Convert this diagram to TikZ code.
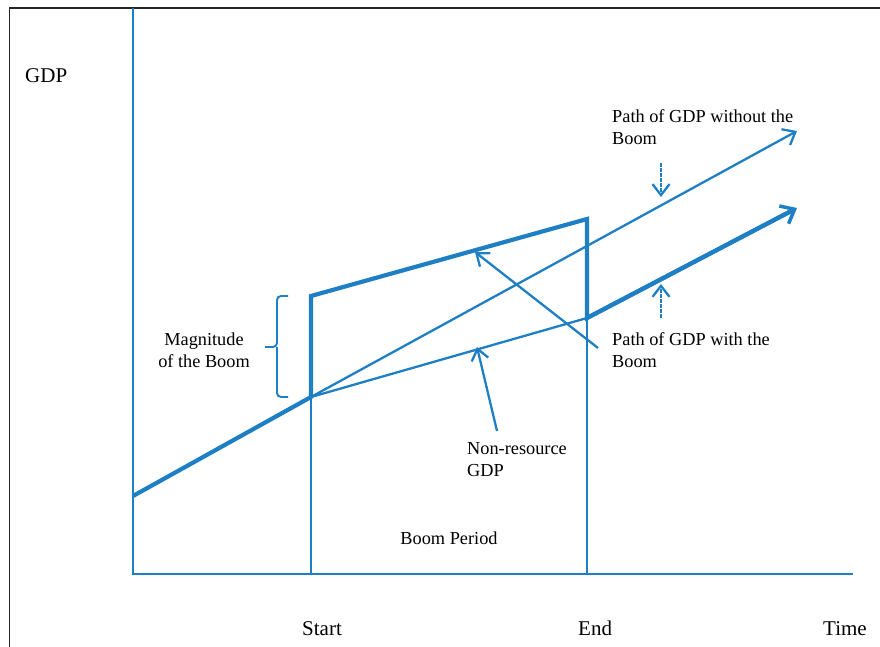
\documentclass[tikz,border=0pt]{standalone}
\usepackage{fontspec}
\setmainfont{Liberation Serif}
\usetikzlibrary{arrows.meta}
\definecolor{gblue}{RGB}{31,127,196}
\tikzset{
  ann/.style={font=\fontsize{18.3}{22}\selectfont, align=left, inner sep=0pt, anchor=base west},
  axlab/.style={font=\fontsize{21}{25}\selectfont, inner sep=0pt, anchor=base west},
  thickpath/.style={gblue, line width=4.2pt, line join=miter},
  thinpath/.style={gblue, line width=2.3pt},
  axis/.style={gblue, line width=2.7pt},
  pointer/.style={gblue, line width=2.3pt, -{Straight Barb[length=11pt,width=17pt,line width=2.3pt]}},
  dpointer/.style={pointer, dash pattern=on 4pt off 1pt},
  frame/.style={black!85, line width=1.7pt}
}
\begin{document}
\begin{tikzpicture}[x=1pt,y=-1pt]
\useasboundingbox (0,0) rectangle (880,647);
% frame
\coordinate (fbl) at (9.5,647);
\coordinate (ftl) at (9.5,8.3);
\coordinate (ftr) at (880,8.3);
\draw[frame] (fbl) -- (ftl) -- (ftr);
% axes
\coordinate (O) at (133,574);
\coordinate (ytop) at (133,8.3);
\coordinate (xend) at (853,574);
\draw[axis] (ytop) -- (O) -- (xend);
% key points
\coordinate (p0) at (133,496);
\coordinate (S) at (311,397);
\coordinate (Sb) at (311,574);
\coordinate (St) at (311,296);
\coordinate (Et) at (587,219);
\coordinate (Em) at (587,318);
\coordinate (Eb) at (587,574);
\coordinate (A1) at (797,208);
\coordinate (A2) at (797,131);
% start dotted vertical
\draw[gblue, line width=1.9pt, dash pattern=on 1.5pt off 0.5pt] (S) -- (Sb);
% end vertical lower part
\draw[gblue, line width=2.5pt] (Em) -- (Eb);
% thin lines
\draw[thinpath, -{Straight Barb[length=11pt,width=18pt,line width=2.3pt]}] (S) -- (A2);
\draw[thinpath] (S) -- (Em);
% thick path
\draw[thickpath] (p0) -- (S) -- (St) -- (Et) -- (Em) -- ([shift={(-5,2.6)}]A1);
\draw[gblue, line width=4.2pt, -{Straight Barb[length=12pt,width=20pt,line width=3.5pt]}] (Em) -- (A1);
% brace
\coordinate (b1) at (288,296);
\coordinate (b2) at (288,397);
\coordinate (btip) at (265,347);
\draw[gblue, line width=1.9pt, rounded corners=4pt] (b1) -- (277,296) -- (277,347) -- (btip);
\draw[gblue, line width=1.9pt, rounded corners=4pt] (b2) -- (277,397) -- (277,347);
% pointers
\coordinate (pw1) at (598,348);
\coordinate (pw2) at (475,252);
\draw[pointer] (pw1) -- (pw2);
\coordinate (pn1) at (497,431);
\coordinate (pn2) at (477,347);
\draw[pointer] (pn1) -- (pn2);
\coordinate (pd1) at (661,163);
\coordinate (pd2) at (661,197);
\draw[dpointer] (pd1) -- (pd2);
\coordinate (pu1) at (661,318);
\coordinate (pu2) at (661,284);
\draw[dpointer] (pu1) -- (pu2);
% texts
\node[axlab] (gdp) at (25,83) {GDP};
\node[axlab] (start) at (302,635) {Start};
\node[axlab] (end) at (578,635) {End};
\node[axlab] (time) at (823,635) {Time};
\node[ann] (without) at (612,145) {Path of GDP without the\\Boom};
\node[ann] (with) at (612,367) {Path of GDP with the\\Boom};
\node[ann, align=center, anchor=base] (mag) at (204,367) {Magnitude\\of the Boom};
\node[ann] (nonres) at (467,476) {Non-resource\\GDP};
\node[ann, anchor=base] (boom) at (449,544) {Boom Period};
\end{tikzpicture}
\end{document}
